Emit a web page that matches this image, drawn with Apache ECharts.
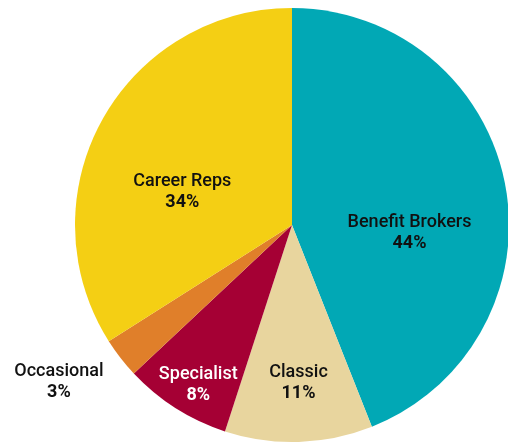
<!DOCTYPE html>
<html>
<head>
<meta charset="utf-8">
<script src="https://cdn.jsdelivr.net/npm/echarts@6/dist/echarts.min.js"></script>
<style>
html,body{margin:0;padding:0;background:#fff;}
#chart{width:508px;height:444px;}
</style>
</head>
<body>
<div id="chart"></div>
<script>
const categories = ['Benefit Brokers', 'Classic', 'Specialist', 'Occasional', 'Career Reps'];
const values = [44, 11, 8, 3, 34];
const colors = ['#01A8B5', '#E8D59E', '#A50034', '#E07F2A', '#F4CF14'];
const labelColors = ['#111', '#111', '#fff', '#111', '#111'];
const labelOffsets = [[8, 29], [3, 47], [-34, 66], [-145, 89], [-12, 21]];

const chart = echarts.init(document.getElementById('chart'));
const font = 'Roboto, "Liberation Sans", Arial, sans-serif';
chart.setOption({
  animation: false,
  series: [{
    type: 'pie',
    center: [292, 225],
    radius: 217,
    startAngle: 90,
    clockwise: true,
    avoidLabelOverlap: false,
    labelLine: { show: false },
    itemStyle: { borderWidth: 0 },
    emphasis: { disabled: true },
    data: categories.map((c, i) => ({
      name: c,
      value: values[i],
      itemStyle: { color: colors[i] },
      label: {
        show: true,
        position: 'inside',
        offset: labelOffsets[i],
        color: labelColors[i],
        formatter: '{n|{b}}\n{p|{c}%}',
        rich: {
          n: { fontFamily: font, fontSize: 18, fontWeight: 500, color: labelColors[i], lineHeight: 21, align: 'center' },
          p: { fontFamily: font, fontSize: 18, fontWeight: 'bold', color: labelColors[i], lineHeight: 21, align: 'center' }
        }
      }
    }))
  }]
});
</script>
</body>
</html>
